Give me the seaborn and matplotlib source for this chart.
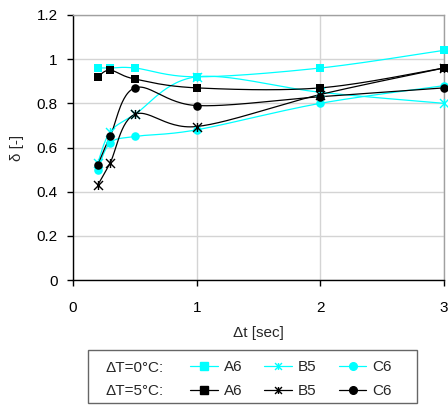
"""
Damping ratio delta versus time step for three specimens (A6, B5, C6)
at two temperature differences, drawn with Excel-like smoothed lines.
"""
import numpy as np
import pandas as pd
import seaborn as sns
import matplotlib.pyplot as plt
from matplotlib.path import Path
from matplotlib.lines import Line2D
from matplotlib.patches import Rectangle

# Data
DT = [0.2, 0.3, 0.5, 1.0, 2.0, 3.0]
A6_0C = [0.96, 0.96, 0.96, 0.92, 0.96, 1.04]
B5_0C = [0.53, 0.67, 0.75, 0.92, 0.85, 0.80]
C6_0C = [0.50, 0.62, 0.65, 0.68, 0.80, 0.88]
A6_5C = [0.92, 0.95, 0.91, 0.87, 0.87, 0.96]
B5_5C = [0.43, 0.53, 0.75, 0.695, 0.84, 0.96]
C6_5C = [0.52, 0.65, 0.87, 0.79, 0.83, 0.87]

CYAN = "#00FFFF"
BLACK = "#000000"
FS = 11

# Excel "star" marker: an x with a vertical bar through it
STAR = Path(
    [(-1, -1), (1, 1), (-1, 1), (1, -1), (0, -1), (0, 1)],
    [Path.MOVETO, Path.LINETO, Path.MOVETO, Path.LINETO, Path.MOVETO, Path.LINETO],
)


def smooth(x, y, n=30):
    """Catmull-Rom spline through the points (what Excel's smoothed line does)."""
    x = np.asarray(x, float)
    y = np.asarray(y, float)
    px = np.concatenate(([x[0]], x, [x[-1]]))
    py = np.concatenate(([y[0]], y, [y[-1]]))
    xs, ys = [], []
    t = np.linspace(0, 1, n)
    for i in range(1, len(px) - 2):
        for p, out in ((px, xs), (py, ys)):
            p0, p1, p2, p3 = p[i - 1], p[i], p[i + 1], p[i + 2]
            c1 = p1 + (p2 - p0) / 6.0
            c2 = p2 - (p3 - p1) / 6.0
            out.extend(
                (1 - t) ** 3 * p1 + 3 * (1 - t) ** 2 * t * c1
                + 3 * (1 - t) * t ** 2 * c2 + t ** 3 * p2
            )
    return np.array(xs), np.array(ys)


SERIES = [
    ("A6", A6_0C, CYAN, "s"),
    ("B5", B5_0C, CYAN, STAR),
    ("C6", C6_0C, CYAN, "o"),
    ("A6", A6_5C, BLACK, "s"),
    ("B5", B5_5C, BLACK, STAR),
    ("C6", C6_5C, BLACK, "o"),
]


def main():
    sns.set_style("white")
    plt.rcParams["font.family"] = ["Liberation Sans", "DejaVu Sans"]

    fig = plt.figure(figsize=(4.48, 4.05), dpi=100)
    W, H = 448.0, 405.0
    ax = fig.add_axes([73 / W, 1 - 280 / H, (444 - 73) / W, (280 - 15) / H])

    handles = []
    for name, vals, color, marker in SERIES:
        sx, sy = smooth(DT, vals)
        sns.lineplot(x=sx, y=sy, sort=False, estimator=None, color=color,
                     linewidth=0.9, ax=ax, zorder=3)
        df = pd.DataFrame({"x": DT, "y": vals})
        if marker is STAR:
            ax.plot(df["x"], df["y"], linestyle="none", marker=marker,
                    markersize=6.5, markeredgecolor=color, markeredgewidth=1.0,
                    clip_on=False, zorder=4)
        else:
            sns.scatterplot(data=df, x="x", y="y", marker=marker, color=color,
                            s=38, edgecolor=color, linewidth=0, ax=ax,
                            clip_on=False, zorder=4)
        handles.append(Line2D([], [], color=color, linewidth=0.9, marker=marker,
                              markersize=5.5 if marker is not STAR else 5,
                              markeredgecolor=color, markerfacecolor=color,
                              markeredgewidth=1.0, label=name))

    ax.set_xlim(0, 3)
    ax.set_ylim(0, 1.2)
    ax.set_xticks([0, 1, 2, 3])
    ax.set_xticklabels(["0", "1", "2", "3"])
    ax.set_yticks([0, 0.2, 0.4, 0.6, 0.8, 1.0, 1.2])
    ax.set_yticklabels(["0", "0.2", "0.4", "0.6", "0.8", "1", "1.2"])
    ax.grid(True, color="#d4d4d4", linewidth=1.0)
    ax.set_axisbelow(True)
    ax.tick_params(direction="out", length=4, width=1, colors=BLACK,
                   labelsize=FS, left=True, bottom=True)
    ax.tick_params(axis="x", pad=11)
    ax.tick_params(axis="y", pad=7)
    for side in ["left", "bottom"]:
        ax.spines[side].set_color(BLACK)
        ax.spines[side].set_linewidth(1.0)
    for side in ["top", "right"]:
        ax.spines[side].set_color("#a0a0a0")
        ax.spines[side].set_linewidth(1.0)
    ax.set_xlabel("Δt [sec]", fontsize=FS, labelpad=8)
    ax.set_ylabel("δ [-]", fontsize=FS, labelpad=9)

    # Legend frame and row headers
    fig.patches.append(Rectangle((88 / W, 1 - 403 / H), (417 - 88) / W, (403 - 350) / H,
                                 transform=fig.transFigure, facecolor="none",
                                 edgecolor="#666666", linewidth=1.0))
    fig.text(105 / W, 1 - 368 / H, "ΔT=0°C:", fontsize=FS, va="center", ha="left")
    fig.text(105 / W, 1 - 391 / H, "ΔT=5°C:", fontsize=FS, va="center", ha="left")

    order = [handles[0], handles[3], handles[1], handles[4], handles[2], handles[5]]
    fig.legend(handles=order, labels=[h.get_label() for h in order], ncol=3,
               loc="upper left", bbox_to_anchor=(190 / W, 1 - 360 / H),
               frameon=False, fontsize=FS, handlelength=1.8,
               handletextpad=0.4, columnspacing=1.45, labelspacing=0.65,
               borderpad=0, borderaxespad=0)

    fig.savefig("out.png", dpi=100)


if __name__ == "__main__":
    main()
